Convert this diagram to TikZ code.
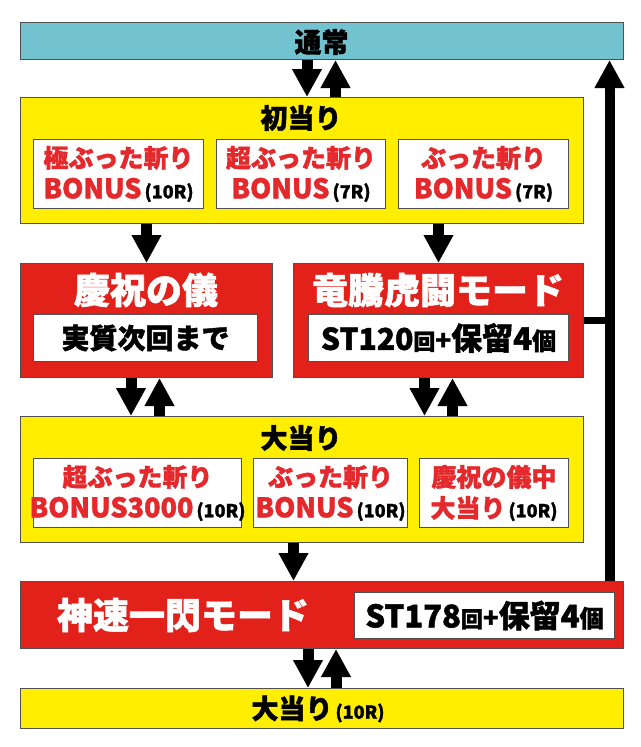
\documentclass[tikz,border=0pt]{standalone}
\usepackage{fontspec}
\setmainfont{Noto Sans CJK JP}[BoldFeatures={FakeBold=1.5}]
\usetikzlibrary{arrows.meta}
\definecolor{cyanbar}{HTML}{72C3CF}
\definecolor{yel}{HTML}{FFEE00}
\definecolor{redbox}{HTML}{E3211B}
\definecolor{redtxt}{HTML}{E5282C}
\definecolor{edge}{HTML}{505050}
\newcommand\fs[1]{\fontsize{#1}{#1}\selectfont}
\newcommand\fsb[2]{\fontsize{#1}{#2}\selectfont}
\newcommand\rnd[1]{{\color{black}\fs{18}\,(#1)}}
\begin{document}
\begin{tikzpicture}[x=1pt,y=-1pt,
  box/.style={draw=edge, line width=1pt, inner sep=0pt, anchor=north west},
  txt/.style={inner sep=0pt, font=\bfseries, align=center},
  arr/.style={line width=11pt, -{Triangle[width=28pt,length=28pt]}, black},
  inbox/.style={box, fill=white},
  redtitle/.style={txt, text=white, font=\bfseries\fs{36}},
  redline/.style={txt, text=redtxt, font=\bfseries\fsb{25}{31}}
]
\useasboundingbox[fill=white] (0,0) rectangle (640,747);

% boxes
\node[box, fill=cyanbar, minimum width=603pt, minimum height=37pt] (tsujo) at (20,22) {};
\node[box, fill=yel, minimum width=563pt, minimum height=126pt] (hatsu) at (20,97) {};
\node[inbox, minimum width=170pt, minimum height=69pt] (h1) at (33,139) {};
\node[inbox, minimum width=169pt, minimum height=69pt] (h2) at (216,139) {};
\node[inbox, minimum width=170pt, minimum height=69pt] (h3) at (398,139) {};
\node[box, fill=redbox, minimum width=252pt, minimum height=114pt] (kei) at (20,263) {};
\node[inbox, minimum width=224pt, minimum height=47pt] (keiin) at (33,314) {};
\node[box, fill=redbox, minimum width=290pt, minimum height=114pt] (ryu) at (293,263) {};
\node[inbox, minimum width=260pt, minimum height=47pt] (ryuin) at (308,314) {};
\node[box, fill=yel, minimum width=563pt, minimum height=126pt] (oat) at (20,416) {};
\node[inbox, minimum width=208pt, minimum height=69pt] (o1) at (33,458) {};
\node[inbox, minimum width=154pt, minimum height=69pt] (o2) at (253,458) {};
\node[inbox, minimum width=149pt, minimum height=69pt] (o3) at (419,458) {};
\node[box, fill=redbox, minimum width=603pt, minimum height=67pt] (shin) at (20,581) {};
\node[inbox, minimum width=260pt, minimum height=46pt] (shinin) at (354,592) {};
\node[box, fill=yel, minimum width=603pt, minimum height=40pt] (bot) at (20,688) {};

% texts
\node[txt, font=\bfseries\fs{27}] (t1) at (321.5,42) {通常};
\node[txt, font=\bfseries\fs{27}] (t2) at (301,118) {初当り};
\node[redline] (t3) at (h1.center) {極ぶった斬り\\{\fs{27}BONUS}\rnd{10R}};
\node[redline] (t4) at (h2.center) {超ぶった斬り\\{\fs{27}BONUS}\rnd{7R}};
\node[redline] (t5) at (h3.center) {ぶった斬り\\{\fs{27}BONUS}\rnd{7R}};
\node[redtitle] (t6) at (146,290) {慶祝の儀};
\node[txt, font=\bfseries\fs{28}] (t7) at (keiin.center) {実質次回まで};
\node[redtitle] (t8) at (438,290) {竜騰虎闘モード};
\node[txt] (t9) at (ryuin.center) {{\fs{30}ST120}{\fs{22}回}{\fs{26}+}{\fs{31}保留}{\fs{31}4}{\fs{24}個}};
\node[txt, font=\bfseries\fs{27}] (t10) at (301,438) {大当り};
\node[redline] (t11) at (o1.center) {超ぶった斬り\\{\fs{27}BONUS3000}\rnd{10R}};
\node[redline] (t12) at (o2.center) {ぶった斬り\\{\fs{27}BONUS}\rnd{10R}};
\node[redline] (t13) at (o3.center) {慶祝の儀中\\大当り\rnd{10R}};
\node[redtitle] (t14) at (183,615) {神速一閃モード};
\node[txt] (t15) at (shinin.center) {{\fs{31}ST178}{\fs{22}回}{\fs{26}+}{\fs{31}保留}{\fs{31}4}{\fs{24}個}};
\node[txt, font=\bfseries\fs{27}] (t16) at (318,709) {大当り\rnd{10R}};

% x positions
\coordinate (xa) at (307,0);
\coordinate (xb) at (335.5,0);
\coordinate (xc) at (131,0);
\coordinate (xd) at (159.5,0);
\coordinate (xe) at (424.5,0);
\coordinate (xf) at (452.5,0);
\coordinate (xg) at (293.5,0);
\coordinate (xh) at (308,0);
\coordinate (xi) at (336,0);
\coordinate (xv) at (609.5,0);

% connectors
\draw[arr] (tsujo.south -| xa) -- (hatsu.north -| xa);
\draw[arr] (hatsu.north -| xb) -- (tsujo.south -| xb);
\draw[arr] (hatsu.south -| kei.north) -- (kei.north);
\draw[arr] (hatsu.south -| ryu.north) -- (ryu.north);
\draw[arr] (kei.south -| xc) -- (oat.north -| xc);
\draw[arr] (oat.north -| xd) -- (kei.south -| xd);
\draw[arr] (ryu.south -| xe) -- (oat.north -| xe);
\draw[arr] (oat.north -| xf) -- (ryu.south -| xf);
\draw[arr] (oat.south -| xg) -- (shin.north -| xg);
\draw[arr] (shin.south -| xh) -- (bot.north -| xh);
\draw[arr] (bot.north -| xi) -- (shin.south -| xi);
\draw[line width=7pt] (ryu.east) -- ([xshift=4pt]ryu.east -| xv);
\draw[arr, line width=10pt] (shin.north -| xv) -- (tsujo.south -| xv);
\end{tikzpicture}
\end{document}
